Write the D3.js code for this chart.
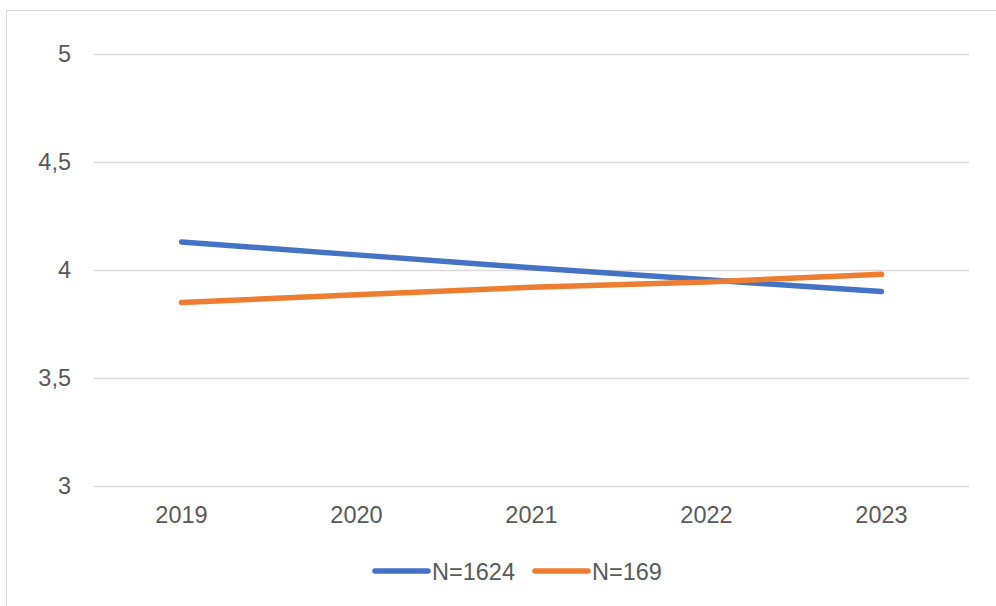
<!DOCTYPE html>
<html><head><meta charset="utf-8">
<script src="https://cdn.jsdelivr.net/npm/d3@7"></script>
<style>body{margin:0;background:#fff}svg{display:block}text{font-family:"Liberation Sans",Arial,sans-serif}</style>
</head><body><svg id="c" width="996" height="606"></svg>
<script>
const years = ["2019","2020","2021","2022","2023"];
const seriesNames = ["N=1624","N=169"];
const seriesA = [4.13, 4.07, 4.01, 3.955, 3.90];
const seriesB = [3.85, 3.885, 3.92, 3.945, 3.98];
const yTicks = [3, 3.5, 4, 4.5, 5];
const colors = ["#4472C4", "#ED7D31"];

const svg = d3.select("#c");
svg.append("rect").attr("x",6.5).attr("y",10.5).attr("width",1000).attr("height",700)
  .attr("fill","none").attr("stroke","#d9d9d9").attr("stroke-width",1);

const x = d3.scaleBand().domain(years).range([94,969]);
const y = d3.scaleLinear().domain([3,5]).range([486,54]);
const fmt = v => String(v).replace(".", ",");

const yAxis = svg.append("g").attr("transform","translate(94,0)")
  .call(d3.axisLeft(y).tickValues(yTicks).tickFormat(fmt).tickSize(-875).tickPadding(23))
  .attr("font-size", 23.5).attr("font-family", "Liberation Sans, Arial, sans-serif");
yAxis.select(".domain").remove();
yAxis.selectAll("line").attr("stroke","#d9d9d9").attr("stroke-width",1.3);
yAxis.selectAll("text").attr("fill","#595959");

const xAxis = svg.append("g").attr("transform","translate(0,486)")
  .call(d3.axisBottom(x).tickSize(0).tickPadding(20))
  .attr("font-size", 23.5).attr("font-family", "Liberation Sans, Arial, sans-serif");
xAxis.select(".domain").remove();
xAxis.selectAll("text").attr("fill","#595959");

const line = d3.line().x((d,i)=>x(years[i])+x.bandwidth()/2).y(d=>y(d));
[seriesA, seriesB].forEach((s,i)=>{
  svg.append("path").datum(s).attr("d",line).attr("fill","none")
    .attr("stroke",colors[i]).attr("stroke-width",5.5).attr("stroke-linecap","round").attr("stroke-linejoin","round");
});

const leg = [{x:375},{x:535}];
seriesNames.forEach((n,i)=>{
  const lx = leg[i].x;
  svg.append("line").attr("x1",lx).attr("x2",lx+53).attr("y1",571).attr("y2",571)
    .attr("stroke",colors[i]).attr("stroke-width",5.5).attr("stroke-linecap","round");
  svg.append("text").attr("x",lx+57).attr("y",580).text(n)
    .attr("fill","#595959").attr("font-size", 23.5);
});
</script></body></html>
